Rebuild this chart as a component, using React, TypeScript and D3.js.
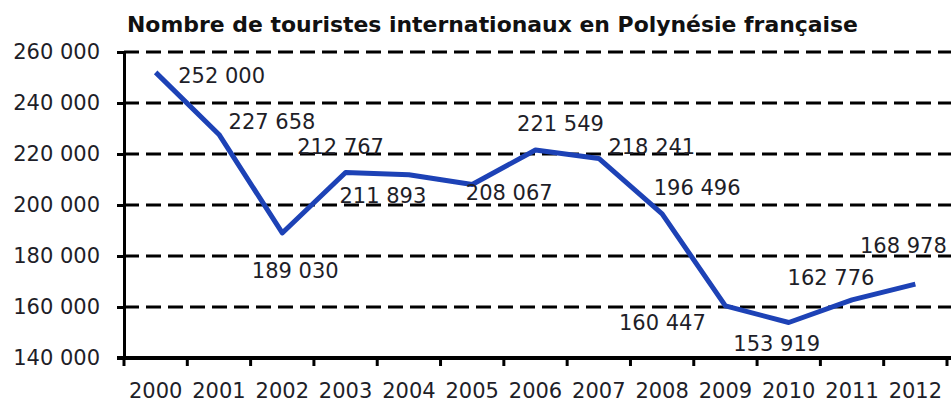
// Nombre de touristes internationaux en Polynésie française — line chart
import { useRef, useEffect } from "react";
import * as d3 from "d3";

const years = ["2000", "2001", "2002", "2003", "2004", "2005", "2006", "2007", "2008", "2009", "2010", "2011", "2012"];
const tourists = [252000, 227658, 189030, 212767, 211893, 208067, 221549, 218241, 196496, 160447, 153919, 162776, 168978];
const yTicks = [140000, 160000, 180000, 200000, 220000, 240000, 260000];

// label placement relative to each point (dx, dy of text centre)
const labelOffsets: [number, number][] = [
  [66, 3], [53, -13], [13, 37], [-5, -26], [-26, 21], [37, 8], [25, -27],
  [53, -12], [35, -26], [-63, 17], [-12, 21], [-21, -22], [-12, -39],
];

const W = 951;
const H = 403;
const PLOT = { left: 124, right: 947, top: 52, bottom: 358 };
const FONT = "'DejaVu Sans', Verdana, sans-serif";
const TEXT = "#1e1e28";

const fmt = (v: number) => d3.format(",")(v).replace(/,/g, " ");

export default function App() {
  const svgRef = useRef<SVGSVGElement>(null);

  useEffect(() => {
    if (!svgRef.current) return;
    const svg = d3.select(svgRef.current);
    svg.selectAll("*").remove();

    const x = d3.scaleBand<string>().domain(years).range([PLOT.left, PLOT.right]).padding(0);
    const y = d3.scaleLinear().domain([140000, 260000]).range([PLOT.bottom, PLOT.top]);
    const cx = (d: string) => (x(d) ?? 0) + x.bandwidth() / 2;

    // ── Title ──
    svg.append("text")
      .attr("x", 127)
      .attr("y", 32)
      .attr("font-family", FONT)
      .attr("font-weight", "bold")
      .attr("font-size", 21)
      .attr("textLength", 731)
      .attr("lengthAdjust", "spacingAndGlyphs")
      .attr("fill", "#111")
      .text("Nombre de touristes internationaux en Polynésie française");

    // ── Dashed gridlines ──
    svg.append("g")
      .selectAll("line")
      .data(yTicks.filter((t) => t > 140000))
      .join("line")
      .attr("x1", PLOT.left)
      .attr("x2", W)
      .attr("y1", (d) => y(d))
      .attr("y2", (d) => y(d))
      .attr("stroke", "#000")
      .attr("stroke-width", 3)
      .attr("stroke-dasharray", "15,7");

    // ── Y axis ──
    svg.append("g")
      .attr("transform", `translate(${PLOT.left},0)`)
      .call(d3.axisLeft(y).tickValues(yTicks).tickSize(7).tickPadding(17).tickFormat((d) => fmt(d as number)))
      .call((g) => g.select(".domain").attr("stroke", "#000").attr("stroke-width", 3))
      .call((g) => g.selectAll(".tick line").attr("stroke", "#000").attr("stroke-width", 3))
      .call((g) =>
        g.selectAll("text")
          .attr("font-family", FONT)
          .attr("font-size", 21)
          .attr("fill", TEXT)
      );

    // ── X axis ──
    svg.append("line")
      .attr("x1", PLOT.left - 7)
      .attr("x2", W)
      .attr("y1", PLOT.bottom)
      .attr("y2", PLOT.bottom)
      .attr("stroke", "#000")
      .attr("stroke-width", 4);

    svg.append("g")
      .selectAll("line")
      .data([...years.map((d) => x(d) ?? 0), PLOT.right])
      .join("line")
      .attr("x1", (d) => d)
      .attr("x2", (d) => d)
      .attr("y1", PLOT.bottom)
      .attr("y2", PLOT.bottom + 8)
      .attr("stroke", "#000")
      .attr("stroke-width", 3);

    svg.append("g")
      .attr("transform", `translate(0,${PLOT.bottom})`)
      .call(d3.axisBottom(x).tickSize(0).tickPadding(25))
      .call((g) => g.select(".domain").remove())
      .call((g) =>
        g.selectAll("text")
          .attr("font-family", FONT)
          .attr("font-size", 21)
          .attr("fill", TEXT)
      );

    // ── Line ──
    const line = d3.line<number>()
      .x((_, i) => cx(years[i]))
      .y((d) => y(d));

    svg.append("path")
      .datum(tourists)
      .attr("d", line)
      .attr("fill", "none")
      .attr("stroke", "#1d42b6")
      .attr("stroke-width", 5)
      .attr("stroke-linejoin", "round");

    // ── Data labels ──
    svg.append("g")
      .selectAll("text")
      .data(tourists)
      .join("text")
      .attr("x", (d, i) => cx(years[i]) + labelOffsets[i][0])
      .attr("y", (d, i) => y(d) + labelOffsets[i][1])
      .attr("dy", "0.36em")
      .attr("text-anchor", "middle")
      .attr("font-family", FONT)
      .attr("font-size", 21)
      .attr("fill", TEXT)
      .text((d) => fmt(d));
  }, []);

  return (
    <svg
      ref={svgRef}
      width={W}
      height={H}
      style={{ position: "absolute", left: 0, top: 0, background: "#fff" }}
    />
  );
}
